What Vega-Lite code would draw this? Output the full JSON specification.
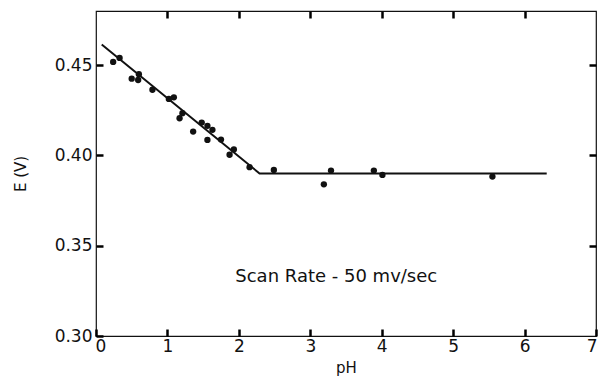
{
  "$schema": "https://vega.github.io/schema/vega-lite/v6.json",
  "width": 500,
  "height": 325,
  "autosize": {"type": "none"},
  "padding": {"left": 96, "top": 11, "right": 2, "bottom": 48},
  "background": "white",
  "config": {
    "view": {"stroke": "#111", "strokeWidth": 1.2},
    "font": "DejaVu Sans",
    "axis": {
      "domain": false,
      "grid": false,
      "offset": -7,
      "tickColor": "black",
      "tickSize": 7,
      "tickWidth": 2.5,
      "labelColor": "#111",
      "labelFontSize": 17,
      "labelFont": "DejaVu Sans",
      "labelFlush": false,
      "labelOverlap": false,
      "titleFont": "DejaVu Sans",
      "titleFontSize": 15,
      "titleFontWeight": "normal",
      "titleColor": "#111"
    }
  },
  "datasets": {
    "points": [
      {"pH": 0.24, "E": 0.4518},
      {"pH": 0.33, "E": 0.4540},
      {"pH": 0.50, "E": 0.4425},
      {"pH": 0.59, "E": 0.4418},
      {"pH": 0.60, "E": 0.4450},
      {"pH": 0.79, "E": 0.4364},
      {"pH": 1.02, "E": 0.4313},
      {"pH": 1.09, "E": 0.4322},
      {"pH": 1.17, "E": 0.4206},
      {"pH": 1.21, "E": 0.4234},
      {"pH": 1.36, "E": 0.4132},
      {"pH": 1.48, "E": 0.4182},
      {"pH": 1.56, "E": 0.4164},
      {"pH": 1.63, "E": 0.4142},
      {"pH": 1.56, "E": 0.4086},
      {"pH": 1.75, "E": 0.4088},
      {"pH": 1.87, "E": 0.4004},
      {"pH": 1.93, "E": 0.4033},
      {"pH": 2.15, "E": 0.3935},
      {"pH": 2.49, "E": 0.3920},
      {"pH": 3.19, "E": 0.3840},
      {"pH": 3.29, "E": 0.3916},
      {"pH": 3.89, "E": 0.3916},
      {"pH": 4.01, "E": 0.3892},
      {"pH": 5.55, "E": 0.3883}
    ],
    "fit": [
      {"pH": 0.08, "E": 0.4615},
      {"pH": 2.29, "E": 0.3900},
      {"pH": 6.31, "E": 0.3900}
    ],
    "note": [
      {"pH": 1.95, "E": 0.3325, "label": "Scan Rate - 50 mv/sec"}
    ]
  },
  "layer": [
    {
      "data": {"name": "points"},
      "mark": {"type": "circle", "size": 40, "opacity": 1, "color": "#111"},
      "encoding": {
        "x": {
          "field": "pH", "type": "quantitative",
          "scale": {"domain": [0, 7], "nice": false},
          "axis": {"orient": "bottom", "values": [0, 1, 2, 3, 4, 5, 6, 7], "format": "d", "labelPadding": 2, "labelFlush": true, "labelFlushOffset": 1, "title": "pH", "titlePadding": 6}
        },
        "y": {
          "field": "E", "type": "quantitative",
          "scale": {"domain": [0.30, 0.48], "nice": false, "zero": false},
          "axis": {"orient": "left", "values": [0.30, 0.35, 0.40, 0.45], "format": ".2f", "labelPadding": 4, "title": "E (V)", "titlePadding": 26}
        }
      }
    },
    {
      "data": {"name": "fit"},
      "mark": {"type": "line", "color": "#111", "strokeWidth": 2},
      "encoding": {
        "x": {"field": "pH", "type": "quantitative", "axis": {"orient": "top", "labels": false, "title": null, "values": [1, 2, 3, 4, 5, 6]}},
        "y": {"field": "E", "type": "quantitative", "axis": {"orient": "right", "labels": false, "title": null, "values": [0.35, 0.40, 0.45]}}
      }
    },
    {
      "data": {"name": "note"},
      "mark": {"type": "text", "align": "left", "baseline": "middle", "fontSize": 18, "color": "#111"},
      "encoding": {
        "x": {"field": "pH", "type": "quantitative", "axis": null},
        "y": {"field": "E", "type": "quantitative", "axis": null},
        "text": {"field": "label"}
      }
    }
  ]
}
